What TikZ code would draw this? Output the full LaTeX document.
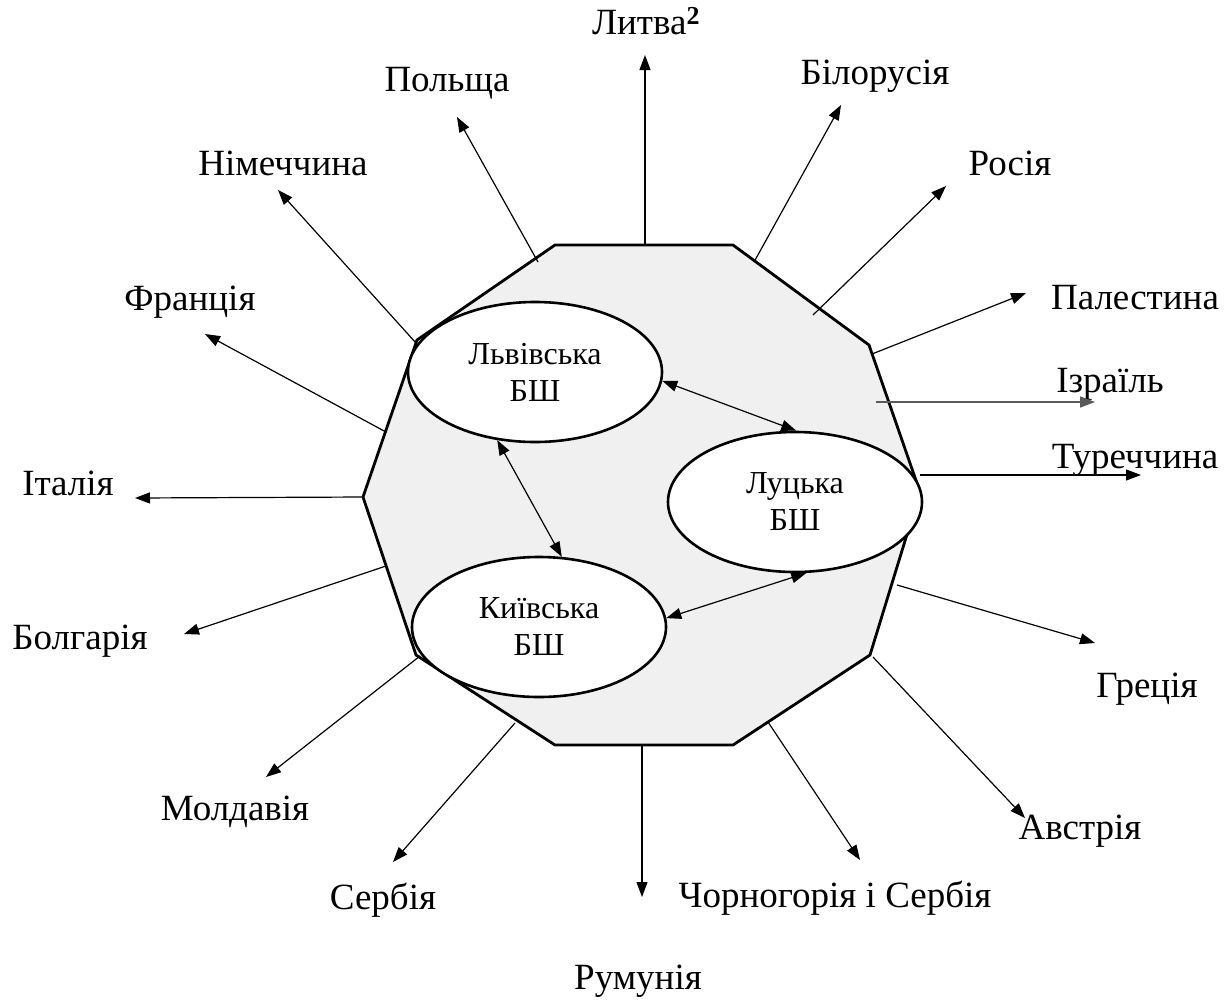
\documentclass[tikz,border=0pt]{standalone}
\usepackage{fontspec}
\setmainfont{Liberation Serif}
\usetikzlibrary{arrows.meta,shapes.geometric}
\tikzset{
  lbl/.style={inner sep=0pt, anchor=base, font=\fontsize{37}{44}\selectfont},
  school/.style={ellipse, draw, line width=2.6pt, fill=white, minimum width=254pt, minimum height=140pt, inner sep=0pt, align=center, font=\fontsize{32}{37}\selectfont},
  spoke/.style={line width=1.2pt, -{Triangle[length=15pt,width=11pt]}},
  link/.style={line width=1.2pt, {Triangle[length=15pt,width=11pt]}-{Triangle[length=15pt,width=11pt]}},
  hull/.style={line width=2.8pt, fill=black!6, line join=miter}
}
\begin{document}
\begin{tikzpicture}[x=1pt,y=-1pt]
\useasboundingbox (0,0) rectangle (1226,999);
% decagon vertices
\coordinate (v1) at (555,245);
\coordinate (v2) at (733,245);
\coordinate (v3) at (869,345);
\coordinate (v4) at (920,492);
\coordinate (v5) at (870,655);
\coordinate (v6) at (733,745);
\coordinate (v7) at (555,745);
\coordinate (v8) at (416,655);
\coordinate (v9) at (363,497);
\coordinate (v10) at (417,340);
\draw[hull] (v1)--(v2)--(v3)--(v4)--(v5)--(v6)--(v7)--(v8)--(v9)--(v10)--cycle;

% labels (anchored at baseline)
\node[lbl] (lit) at (646,34) {Литва\textsuperscript{\textbf{2}}};
\node[lbl] (pol) at (447,91) {Польща};
\node[lbl] (bil) at (875,84) {Білорусія};
\node[lbl] (nim) at (283,175) {Німеччина};
\node[lbl] (ros) at (1010,175) {Росія};
\node[lbl] (fra) at (190,310) {Франція};
\node[lbl] (pal) at (1135,309) {Палестина};
\node[lbl] (izr) at (1110,392) {Ізраїль};
\node[lbl] (tur) at (1135,468) {Туреччина};
\node[lbl] (ita) at (68,495) {Італія};
\node[lbl] (bol) at (80,649) {Болгарія};
\node[lbl] (gre) at (1147,697) {Греція};
\node[lbl] (mol) at (235,820) {Молдавія};
\node[lbl] (avs) at (1080,839) {Австрія};
\node[lbl] (ser) at (383,909) {Сербія};
\node[lbl] (cho) at (835,907) {Чорногорія і Сербія};
\node[lbl] (rum) at (638,989) {Румунія};

% spoke start points
\coordinate (s1) at (645,245);
\coordinate (s2) at (538,262);
\coordinate (s3) at (754,262);
\coordinate (s4) at (813,315);
\coordinate (s5) at (872,354);
\coordinate (s6) at (876,402);
\coordinate (s7) at (920,475);
\coordinate (s8) at (897,585);
\coordinate (s9) at (873,657);
\coordinate (s10) at (768,722);
\coordinate (s11) at (642,745);
\coordinate (s12) at (515,723);
\coordinate (s13) at (420,656);
\coordinate (s14) at (386,566);
\coordinate (s15) at (364,497);
\coordinate (s16) at (386,432);
\coordinate (s17) at (416,343);
% spoke tips
\coordinate (t1) at (645,55);
\coordinate (t2) at (457,117);
\coordinate (t3) at (841,105);
\coordinate (t4) at (946,186);
\coordinate (t5) at (1026,293);
\coordinate (t6) at (1095,402);
\coordinate (t7) at (1141,475);
\coordinate (t8) at (1095,643);
\coordinate (t9) at (1025,818);
\coordinate (t10) at (860,860);
\coordinate (t11) at (642,897);
\coordinate (t12) at (393,862);
\coordinate (t13) at (266,777);
\coordinate (t14) at (184,634);
\coordinate (t15) at (135,498);
\coordinate (t16) at (205,334);
\coordinate (t17) at (278,190);

\foreach \i in {1,2,3,4,5,7,8,9,10,11,12,13,14,15,16,17}
  \draw[spoke] (s\i) -- (t\i);
\draw[spoke, draw=black!65, line width=1.6pt] (s6) -- (t6);

% schools
\node[school] (lviv) at (535,372) {Львівська\\БШ};
\node[school] (lutsk) at (795,502) {Луцька\\БШ};
\node[school] (kyiv) at (539,627) {Київська\\БШ};

\draw[link] (lviv.-4) -- (lutsk.89);
\draw[link] (lviv.241) -- (kyiv.72);
\draw[link] (kyiv.4) -- (lutsk.-81);
\end{tikzpicture}
\end{document}
